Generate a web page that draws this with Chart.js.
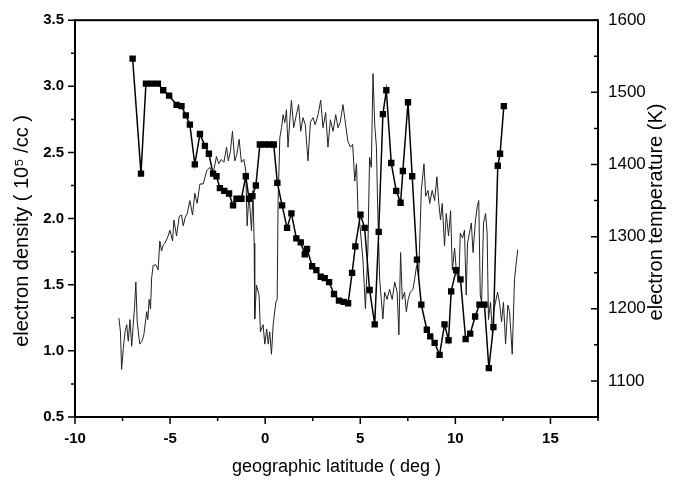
<!DOCTYPE html>
<html>
<head>
<meta charset="utf-8">
<script src="https://cdn.jsdelivr.net/npm/chart.js@4/dist/chart.umd.min.js"></script>
<style>
  html, body { margin: 0; padding: 0; background: #fff; }
  #wrap { width: 677px; height: 482px; }
</style>
</head>
<body>
<div id="wrap"><canvas id="chart" width="677" height="482"></canvas></div>
<script>
// tick labels
var X_TICKS = [-10, -5, 0, 5, 10, 15]
var Y_TICKS = [0.5, 1.0, 1.5, 2.0, 2.5, 3.0, 3.5]
var T_TICKS = [1100, 1200, 1300, 1400, 1500, 1600]

// electron density (squares), left axis
var DENS_LAT = [-6.97, -6.53, -6.27, -5.96, -5.64, -5.36, -5.05, -4.66, -4.40, -4.17, -3.96, -3.70, -3.43, -3.17, -2.96, -2.74, -2.56, -2.38, -2.15, -1.90,
  -1.69, -1.51, -1.25, -1.02, -0.85, -0.67, -0.49, -0.28, -0.02, 0.24, 0.45, 0.64, 0.89, 1.15, 1.38, 1.64, 1.87, 2.08, 2.20, 2.47,
  2.69, 2.92, 3.13, 3.36, 3.62, 3.88, 4.13, 4.36, 4.57, 4.74, 5.01, 5.23, 5.49, 5.76, 5.97, 6.19, 6.37, 6.63, 6.89, 7.12,
  7.24, 7.51, 7.73, 7.98, 8.21, 8.50, 8.68, 8.91, 9.17, 9.43, 9.64, 9.78, 10.04, 10.27, 10.54, 10.78, 11.04, 11.27, 11.53, 11.76,
  12.00, 12.23, 12.35, 12.55]
var DENS_VAL = [3.21, 2.34, 3.02, 3.02, 3.02, 2.97, 2.93, 2.86, 2.85, 2.78, 2.71, 2.41, 2.64, 2.55, 2.49, 2.34, 2.32, 2.23, 2.21, 2.19,
  2.10, 2.15, 2.15, 2.32, 2.15, 2.17, 2.25, 2.56, 2.56, 2.56, 2.56, 2.27, 2.10, 1.93, 2.04, 1.85, 1.82, 1.73, 1.77, 1.64,
  1.61, 1.56, 1.55, 1.52, 1.43, 1.38, 1.37, 1.36, 1.59, 1.79, 2.03, 1.93, 1.46, 1.20, 1.90, 2.79, 2.97, 2.42, 2.21, 2.12,
  2.36, 2.88, 2.32, 1.69, 1.35, 1.16, 1.11, 1.06, 0.97, 1.20, 1.08, 1.45, 1.61, 1.54, 1.09, 1.13, 1.26, 1.35, 1.35, 0.87,
  1.18, 2.40, 2.49, 2.85]

// electron temperature (thin trace), right axis
var TEMP_LAT = [-7.69, -7.61, -7.55, -7.46, -7.37, -7.28, -7.20, -7.11, -7.02, -6.94, -6.87, -6.80, -6.73, -6.64, -6.59, -6.48, -6.38, -6.23, -6.17, -6.10,
  -6.03, -5.97, -5.89, -5.75, -5.63, -5.54, -5.45, -5.35, -5.27, -5.10, -5.01, -4.87, -4.80, -4.66, -4.52, -4.40, -4.31, -4.20, -4.10, -3.96,
  -3.82, -3.70, -3.58, -3.43, -3.26, -3.08, -2.91, -2.74, -2.56, -2.44, -2.31, -2.17, -2.03, -1.94, -1.83, -1.72, -1.60, -1.49, -1.37, -1.25,
  -1.12, -1.02, -0.95, -0.85, -0.72, -0.64, -0.58, -0.55, -0.46, -0.32, -0.25, -0.11, -0.02, 0.08, 0.16, 0.24, 0.33, 0.42, 0.56, 0.63,
  0.68, 0.77, 0.86, 0.94, 1.03, 1.12, 1.20, 1.29, 1.38, 1.50, 1.64, 1.76, 1.87, 1.99, 2.11, 2.25, 2.38, 2.52, 2.63, 2.78,
  2.92, 3.04, 3.18, 3.30, 3.43, 3.57, 3.71, 3.83, 3.95, 4.09, 4.23, 4.35, 4.48, 4.60, 4.71, 4.80, 4.88, 4.97, 5.14, 5.27,
  5.40, 5.49, 5.58, 5.67, 5.76, 5.85, 5.91, 6.02, 6.19, 6.28, 6.41, 6.54, 6.68, 6.81, 6.94, 7.03, 7.12, 7.21, 7.33, 7.42,
  7.52, 7.63, 7.77, 7.86, 7.96, 8.07, 8.21, 8.35, 8.44, 8.56, 8.65, 8.78, 8.91, 9.03, 9.13, 9.22, 9.31, 9.43, 9.52, 9.64,
  9.75, 9.84, 9.96, 10.06, 10.18, 10.26, 10.38, 10.48, 10.57, 10.64, 10.84, 10.93, 11.06, 11.15, 11.23, 11.31, 11.38, 11.48, 11.59, 11.67,
  11.74, 11.85, 11.95, 12.01, 12.11, 12.22, 12.32, 12.43, 12.53, 12.64, 12.76, 12.85, 12.99, 13.11, 13.19, 13.28]
var TEMP_VAL = [1187, 1168, 1116, 1145, 1168, 1178, 1155, 1185, 1148, 1178, 1202, 1237, 1182, 1161, 1151, 1155, 1164, 1196, 1185, 1213,
  1200, 1243, 1260, 1261, 1254, 1294, 1280, 1289, 1291, 1301, 1309, 1294, 1323, 1301, 1328, 1330, 1315, 1327, 1332, 1350,
  1330, 1360, 1346, 1373, 1373, 1391, 1396, 1387, 1411, 1401, 1407, 1403, 1424, 1405, 1418, 1446, 1405, 1414, 1435, 1403,
  1407, 1391, 1315, 1360, 1308, 1364, 1291, 1186, 1233, 1219, 1168, 1178, 1151, 1172, 1151, 1168, 1137, 1178, 1209, 1213,
  1350, 1437, 1451, 1469, 1458, 1476, 1424, 1459, 1489, 1451, 1469, 1483, 1446, 1465, 1455, 1405, 1459, 1465, 1455, 1469,
  1489, 1451, 1472, 1424, 1462, 1446, 1469, 1451, 1459, 1483, 1455, 1432, 1424, 1428, 1377, 1401, 1336, 1319, 1268, 1200,
  1282, 1410, 1396, 1526, 1455, 1424, 1346, 1241, 1186, 1223, 1213, 1227, 1213, 1237, 1223, 1164, 1278, 1213, 1223, 1196,
  1213, 1223, 1227, 1241, 1260, 1246, 1364, 1401, 1356, 1364, 1346, 1364, 1350, 1383, 1346, 1323, 1346, 1287, 1332, 1301,
  1336, 1254, 1284, 1250, 1237, 1305, 1298, 1309, 1219, 1291, 1319, 1278, 1323, 1342, 1350, 1219, 1209, 1319, 1332, 1305,
  1185, 1209, 1164, 1196, 1209, 1223, 1209, 1182, 1209, 1151, 1205, 1196, 1137, 1241, 1261, 1282]

var LEFT_TITLE = 'electron density ( 10\u2075 /cc )'
var RIGHT_TITLE = 'electron temperature (K)'

var densPoints = DENS_LAT.map((x, i) => ({ x: x, y: DENS_VAL[i] }))
var tempPoints = TEMP_LAT.map((x, i) => ({ x: x, y: TEMP_VAL[i] }))

function mids(arr) {
  var out = []
  for (var i = 0; i < arr.length - 1; i++) out.push((arr[i] + arr[i + 1]) / 2)
  return out
}

// both vertical titles read bottom-to-top in the original
function vTitle(ctx, text, x, y) {
  ctx.save()
  ctx.translate(x, y)
  ctx.rotate(-Math.PI / 2)
  ctx.fillStyle = '#000'
  ctx.font = '20px Arial, "Liberation Sans"'
  ctx.textAlign = 'center'
  ctx.textBaseline = 'middle'
  ctx.fillText(text, 0, 0)
  ctx.restore()
}

// frame, tick marks (outward on left/bottom, inward on right) and the axis titles
var frameTicks = {
  id: 'frameTicks',
  afterDatasetsDraw(chart) {
    var ctx = chart.ctx
    var a = chart.chartArea
    var sx = chart.scales.x, sy = chart.scales.y, st = chart.scales.y1
    ctx.save()
    ctx.strokeStyle = '#000'
    ctx.lineWidth = 2
    ctx.strokeRect(a.left, a.top, a.right - a.left, a.bottom - a.top)
    ctx.lineWidth = 1.5
    ctx.beginPath()
    Y_TICKS.forEach(v => { var p = sy.getPixelForValue(v); ctx.moveTo(a.left - 7, p); ctx.lineTo(a.left, p) })
    mids(Y_TICKS).forEach(v => { var p = sy.getPixelForValue(v); ctx.moveTo(a.left - 4, p); ctx.lineTo(a.left, p) })
    X_TICKS.forEach(v => { var p = sx.getPixelForValue(v); ctx.moveTo(p, a.bottom); ctx.lineTo(p, a.bottom + 7) })
    mids(X_TICKS.concat([20])).forEach(v => { var p = sx.getPixelForValue(v); ctx.moveTo(p, a.bottom); ctx.lineTo(p, a.bottom + 4) })
    T_TICKS.forEach(v => { var p = st.getPixelForValue(v); ctx.moveTo(a.right - 7, p); ctx.lineTo(a.right, p) })
    mids([1000].concat(T_TICKS)).forEach(v => { var p = st.getPixelForValue(v); ctx.moveTo(a.right - 4, p); ctx.lineTo(a.right, p) })
    ctx.stroke()
    ctx.restore()

    vTitle(ctx, LEFT_TITLE, 22, 231)
    vTitle(ctx, RIGHT_TITLE, 656, 212)
  }
}

var ctx = document.getElementById('chart').getContext('2d')

new Chart(ctx, {
  type: 'scatter',
  data: {
    datasets: [
      {
        label: 'electron density',
        data: densPoints,
        yAxisID: 'y',
        showLine: true,
        borderColor: '#000',
        backgroundColor: '#000',
        borderWidth: 1.5,
        pointStyle: 'rect',
        pointRadius: 4.5,
        pointBorderWidth: 0,
        order: 1,
      },
      {
        label: 'electron temperature',
        data: tempPoints,
        yAxisID: 'y1',
        showLine: true,
        borderColor: '#222',
        borderWidth: 1,
        pointRadius: 0,
        order: 2,
      },
    ],
  },
  options: {
    responsive: false,
    animation: false,
    devicePixelRatio: 1,
    layout: { padding: { top: 14, left: 0, right: 0, bottom: 0 } },
    plugins: {
      legend: { display: false },
      tooltip: { enabled: false },
    },
    scales: {
      x: {
        type: 'linear',
        min: -10,
        max: 17.5,
        afterFit: function (s) { s.height = 65 },
        afterBuildTicks: function (s) { s.ticks = X_TICKS.map(v => ({ value: v })) },
        grid: { display: false, drawTicks: false, tickLength: 0 },
        border: { display: false },
        ticks: {
          color: '#000',
          padding: 13,
          font: { size: 15, family: 'Arial, Liberation Sans', weight: 'bold' },
          callback: v => String(v),
        },
        title: {
          display: true,
          text: 'geographic latitude ( deg )',
          color: '#000',
          font: { size: 18, family: 'Arial, Liberation Sans' },
          padding: { top: 0, bottom: 4 },
        },
      },
      y: {
        position: 'left',
        min: 0.5,
        max: 3.5,
        afterFit: function (s) { s.width = 75 },
        afterBuildTicks: function (s) { s.ticks = Y_TICKS.map(v => ({ value: v })) },
        grid: { display: false, drawTicks: false, tickLength: 0 },
        border: { display: false },
        ticks: {
          color: '#000',
          padding: 11,
          font: { size: 15, family: 'Arial, Liberation Sans', weight: 'bold' },
          callback: v => v.toFixed(1),
        },
        title: { display: false },
      },
      y1: {
        position: 'right',
        min: 1050,
        max: 1600,
        afterFit: function (s) { s.width = 79 },
        afterBuildTicks: function (s) { s.ticks = T_TICKS.map(v => ({ value: v })) },
        grid: { display: false, drawTicks: false, tickLength: 0 },
        border: { display: false },
        ticks: {
          color: '#000',
          padding: 10,
          font: { size: 17, family: 'Arial, Liberation Sans' },
          callback: v => String(v),
        },
        title: { display: false },
      },
    },
  },
  plugins: [frameTicks],
})
</script>
</body>
</html>
